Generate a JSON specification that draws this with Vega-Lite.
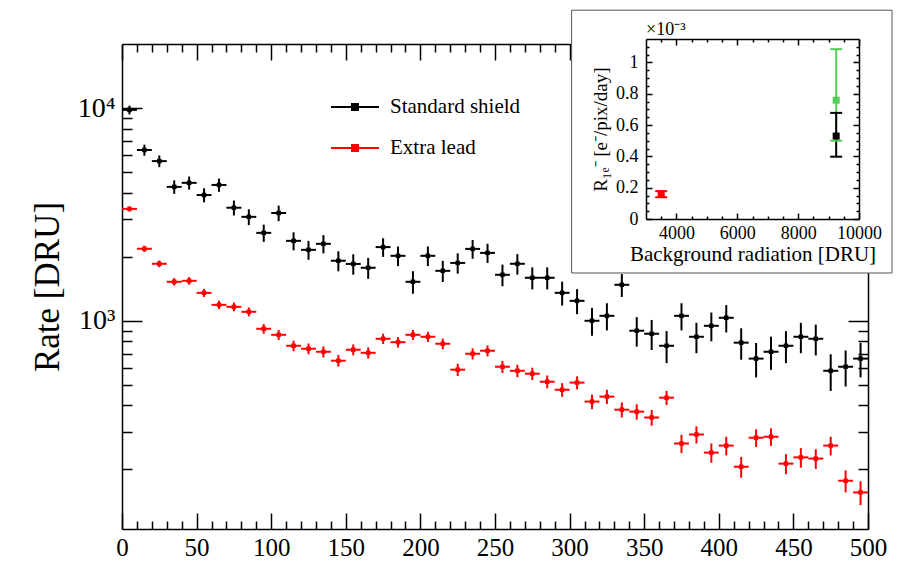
{
"$schema": "https://vega.github.io/schema/vega-lite/v6.json",
"width": 746, "height": 485,
"autosize": {"type": "none"},
"padding": {"left": 122, "top": 44, "right": 40, "bottom": 35},
"background": "white",
"config": {
  "view": {"stroke": null},
  "font": "Liberation Serif",
  "axis": {"labelFont": "Liberation Serif", "titleFont": "Liberation Serif", "labelColor": "black", "titleColor": "black", "tickColor": "black", "domainColor": "black", "grid": false, "titleFontWeight": "normal", "labelFlush": false, "labelOverlap": false, "labelBound": false, "tickWidth": 1.5, "domainWidth": 1.5}
},
"datasets": {
  "main": [
    {"series":"Standard shield","x":5,"x0":0,"x1":10,"rate":9800,"lo":9331,"hi":10269},
    {"series":"Standard shield","x":15,"x0":10,"x1":20,"rate":6350,"lo":5972,"hi":6728},
    {"series":"Standard shield","x":25,"x0":20,"x1":30,"rate":5630,"lo":5274,"hi":5986},
    {"series":"Standard shield","x":35,"x0":30,"x1":40,"rate":4260,"lo":3951,"hi":4569},
    {"series":"Standard shield","x":45,"x0":40,"x1":50,"rate":4450,"lo":4134,"hi":4766},
    {"series":"Standard shield","x":55,"x0":50,"x1":60,"rate":3900,"lo":3604,"hi":4196},
    {"series":"Standard shield","x":65,"x0":60,"x1":70,"rate":4350,"lo":4037,"hi":4663},
    {"series":"Standard shield","x":75,"x0":70,"x1":80,"rate":3400,"lo":3124,"hi":3676},
    {"series":"Standard shield","x":85,"x0":80,"x1":90,"rate":3080,"lo":2817,"hi":3343},
    {"series":"Standard shield","x":95,"x0":90,"x1":100,"rate":2590,"lo":2349,"hi":2831},
    {"series":"Standard shield","x":105,"x0":100,"x1":110,"rate":3210,"lo":2941,"hi":3479},
    {"series":"Standard shield","x":115,"x0":110,"x1":120,"rate":2375,"lo":2144,"hi":2606},
    {"series":"Standard shield","x":125,"x0":120,"x1":130,"rate":2155,"lo":1935,"hi":2375},
    {"series":"Standard shield","x":135,"x0":130,"x1":140,"rate":2300,"lo":2073,"hi":2527},
    {"series":"Standard shield","x":145,"x0":140,"x1":150,"rate":1915,"lo":1708,"hi":2122},
    {"series":"Standard shield","x":155,"x0":150,"x1":160,"rate":1850,"lo":1646,"hi":2054},
    {"series":"Standard shield","x":165,"x0":160,"x1":170,"rate":1775,"lo":1575,"hi":1975},
    {"series":"Standard shield","x":175,"x0":170,"x1":180,"rate":2220,"lo":1997,"hi":2443},
    {"series":"Standard shield","x":185,"x0":180,"x1":190,"rate":2020,"lo":1807,"hi":2233},
    {"series":"Standard shield","x":195,"x0":190,"x1":200,"rate":1525,"lo":1340,"hi":1710},
    {"series":"Standard shield","x":205,"x0":200,"x1":210,"rate":2020,"lo":1807,"hi":2233},
    {"series":"Standard shield","x":215,"x0":210,"x1":220,"rate":1717,"lo":1521,"hi":1913},
    {"series":"Standard shield","x":225,"x0":220,"x1":230,"rate":1870,"lo":1665,"hi":2075},
    {"series":"Standard shield","x":235,"x0":230,"x1":240,"rate":2177,"lo":1956,"hi":2398},
    {"series":"Standard shield","x":245,"x0":240,"x1":250,"rate":2085,"lo":1869,"hi":2301},
    {"series":"Standard shield","x":255,"x0":250,"x1":260,"rate":1645,"lo":1453,"hi":1837},
    {"series":"Standard shield","x":265,"x0":260,"x1":270,"rate":1853,"lo":1649,"hi":2057},
    {"series":"Standard shield","x":275,"x0":270,"x1":280,"rate":1593,"lo":1404,"hi":1782},
    {"series":"Standard shield","x":285,"x0":280,"x1":290,"rate":1593,"lo":1404,"hi":1782},
    {"series":"Standard shield","x":295,"x0":290,"x1":300,"rate":1353,"lo":1179,"hi":1527},
    {"series":"Standard shield","x":305,"x0":300,"x1":310,"rate":1241,"lo":1074,"hi":1408},
    {"series":"Standard shield","x":315,"x0":310,"x1":320,"rate":1000,"lo":850,"hi":1150},
    {"series":"Standard shield","x":325,"x0":320,"x1":330,"rate":1055,"lo":901,"hi":1209},
    {"series":"Standard shield","x":335,"x0":330,"x1":340,"rate":1476,"lo":1294,"hi":1658},
    {"series":"Standard shield","x":345,"x0":340,"x1":350,"rate":898,"lo":756,"hi":1040},
    {"series":"Standard shield","x":355,"x0":350,"x1":360,"rate":869,"lo":729,"hi":1009},
    {"series":"Standard shield","x":365,"x0":360,"x1":370,"rate":763,"lo":632,"hi":894},
    {"series":"Standard shield","x":375,"x0":370,"x1":380,"rate":1055,"lo":901,"hi":1209},
    {"series":"Standard shield","x":385,"x0":380,"x1":390,"rate":841,"lo":704,"hi":978},
    {"series":"Standard shield","x":395,"x0":390,"x1":400,"rate":947,"lo":801,"hi":1093},
    {"series":"Standard shield","x":405,"x0":400,"x1":410,"rate":1033,"lo":881,"hi":1185},
    {"series":"Standard shield","x":415,"x0":410,"x1":420,"rate":789,"lo":656,"hi":922},
    {"series":"Standard shield","x":425,"x0":420,"x1":430,"rate":664,"lo":542,"hi":786},
    {"series":"Standard shield","x":435,"x0":430,"x1":440,"rate":715,"lo":588,"hi":842},
    {"series":"Standard shield","x":445,"x0":440,"x1":450,"rate":763,"lo":632,"hi":894},
    {"series":"Standard shield","x":455,"x0":450,"x1":460,"rate":841,"lo":704,"hi":978},
    {"series":"Standard shield","x":465,"x0":460,"x1":470,"rate":823,"lo":687,"hi":959},
    {"series":"Standard shield","x":475,"x0":470,"x1":480,"rate":582,"lo":468,"hi":696},
    {"series":"Standard shield","x":485,"x0":480,"x1":490,"rate":608,"lo":491,"hi":725},
    {"series":"Standard shield","x":495,"x0":490,"x1":500,"rate":664,"lo":542,"hi":786},
    {"series":"Extra lead","x":5,"x0":0,"x1":10,"rate":3357,"lo":3264,"hi":3450},
    {"series":"Extra lead","x":15,"x0":10,"x1":20,"rate":2180,"lo":2105,"hi":2255},
    {"series":"Extra lead","x":25,"x0":20,"x1":30,"rate":1853,"lo":1784,"hi":1922},
    {"series":"Extra lead","x":35,"x0":30,"x1":40,"rate":1525,"lo":1462,"hi":1588},
    {"series":"Extra lead","x":45,"x0":40,"x1":50,"rate":1541,"lo":1478,"hi":1604},
    {"series":"Extra lead","x":55,"x0":50,"x1":60,"rate":1353,"lo":1294,"hi":1412},
    {"series":"Extra lead","x":65,"x0":60,"x1":70,"rate":1188,"lo":1133,"hi":1243},
    {"series":"Extra lead","x":75,"x0":70,"x1":80,"rate":1163,"lo":1108,"hi":1218},
    {"series":"Extra lead","x":85,"x0":80,"x1":90,"rate":1102,"lo":1049,"hi":1155},
    {"series":"Extra lead","x":95,"x0":90,"x1":100,"rate":917,"lo":869,"hi":965},
    {"series":"Extra lead","x":105,"x0":100,"x1":110,"rate":859,"lo":812,"hi":906},
    {"series":"Extra lead","x":115,"x0":110,"x1":120,"rate":763,"lo":719,"hi":807},
    {"series":"Extra lead","x":125,"x0":120,"x1":130,"rate":739,"lo":696,"hi":782},
    {"series":"Extra lead","x":135,"x0":130,"x1":140,"rate":715,"lo":672,"hi":758},
    {"series":"Extra lead","x":145,"x0":140,"x1":150,"rate":649,"lo":608,"hi":690},
    {"series":"Extra lead","x":155,"x0":150,"x1":160,"rate":731,"lo":688,"hi":774},
    {"series":"Extra lead","x":165,"x0":160,"x1":170,"rate":707,"lo":664,"hi":750},
    {"series":"Extra lead","x":175,"x0":170,"x1":180,"rate":823,"lo":777,"hi":869},
    {"series":"Extra lead","x":185,"x0":180,"x1":190,"rate":793,"lo":748,"hi":838},
    {"series":"Extra lead","x":195,"x0":190,"x1":200,"rate":859,"lo":812,"hi":906},
    {"series":"Extra lead","x":205,"x0":200,"x1":210,"rate":841,"lo":795,"hi":887},
    {"series":"Extra lead","x":215,"x0":210,"x1":220,"rate":780,"lo":735,"hi":825},
    {"series":"Extra lead","x":225,"x0":220,"x1":230,"rate":589,"lo":550,"hi":628},
    {"series":"Extra lead","x":235,"x0":230,"x1":240,"rate":700,"lo":658,"hi":742},
    {"series":"Extra lead","x":245,"x0":240,"x1":250,"rate":723,"lo":680,"hi":766},
    {"series":"Extra lead","x":255,"x0":250,"x1":260,"rate":608,"lo":568,"hi":648},
    {"series":"Extra lead","x":265,"x0":260,"x1":270,"rate":582,"lo":543,"hi":621},
    {"series":"Extra lead","x":275,"x0":270,"x1":280,"rate":564,"lo":526,"hi":602},
    {"series":"Extra lead","x":285,"x0":280,"x1":290,"rate":517,"lo":481,"hi":553},
    {"series":"Extra lead","x":295,"x0":290,"x1":300,"rate":474,"lo":439,"hi":509},
    {"series":"Extra lead","x":305,"x0":300,"x1":310,"rate":512,"lo":476,"hi":548},
    {"series":"Extra lead","x":315,"x0":310,"x1":320,"rate":417,"lo":384,"hi":450},
    {"series":"Extra lead","x":325,"x0":320,"x1":330,"rate":440,"lo":406,"hi":474},
    {"series":"Extra lead","x":335,"x0":330,"x1":340,"rate":382,"lo":351,"hi":413},
    {"series":"Extra lead","x":345,"x0":340,"x1":350,"rate":374,"lo":343,"hi":405},
    {"series":"Extra lead","x":355,"x0":350,"x1":360,"rate":351,"lo":321,"hi":381},
    {"series":"Extra lead","x":365,"x0":360,"x1":370,"rate":435,"lo":402,"hi":468},
    {"series":"Extra lead","x":375,"x0":370,"x1":380,"rate":265,"lo":239,"hi":291},
    {"series":"Extra lead","x":385,"x0":380,"x1":390,"rate":292,"lo":265,"hi":319},
    {"series":"Extra lead","x":395,"x0":390,"x1":400,"rate":240,"lo":215,"hi":265},
    {"series":"Extra lead","x":405,"x0":400,"x1":410,"rate":259,"lo":233,"hi":285},
    {"series":"Extra lead","x":415,"x0":410,"x1":420,"rate":206,"lo":183,"hi":229},
    {"series":"Extra lead","x":425,"x0":420,"x1":430,"rate":282,"lo":255,"hi":309},
    {"series":"Extra lead","x":435,"x0":430,"x1":440,"rate":285,"lo":258,"hi":312},
    {"series":"Extra lead","x":445,"x0":440,"x1":450,"rate":213,"lo":190,"hi":236},
    {"series":"Extra lead","x":455,"x0":450,"x1":460,"rate":228,"lo":204,"hi":252},
    {"series":"Extra lead","x":465,"x0":460,"x1":470,"rate":225,"lo":201,"hi":249},
    {"series":"Extra lead","x":475,"x0":470,"x1":480,"rate":259,"lo":233,"hi":285},
    {"series":"Extra lead","x":485,"x0":480,"x1":490,"rate":177,"lo":156,"hi":198},
    {"series":"Extra lead","x":495,"x0":490,"x1":500,"rate":156,"lo":136,"hi":176}
  ],
  "inset": [
    {"series":"Corrected","dru":9250,"r":0.000759,"lo":0.0005,"hi":0.001085},
    {"series":"Standard shield","dru":9250,"r":0.00053,"lo":0.000398,"hi":0.000678},
    {"series":"Extra lead","dru":3500,"r":0.00016,"lo":0.000139,"hi":0.000178}
  ]
},
"layer": [
  {
    "data": {"name": "main"},
    "layer": [
      {
        "mark": {"type": "rule", "strokeWidth": 2},
        "encoding": {
          "x": {"field": "x0", "type": "quantitative", "scale": {"domain": [0, 500], "nice": false, "zero": false},
                "axis": {"orient": "bottom", "values": [0,50,100,150,200,250,300,350,400,450,500], "format": "d", "tickSize": -16, "labelFontSize": 25, "labelPadding": 22, "title": null, "zindex": 0}},
          "x2": {"field": "x1"},
          "y": {"field": "rate", "type": "quantitative", "scale": {"type": "log", "domain": [105, 20000], "nice": false},
                "axis": {"orient": "left", "values": [1000, 10000], "tickSize": -20, "labelExpr": "datum.value == 10000 ? '10⁴' : '10³'", "labelFontSize": 28, "labelPadding": 27, "title": "Rate [DRU]", "titleFontSize": 35, "titlePadding": 12, "zindex": 0}},
          "color": {"field": "series", "type": "nominal", "scale": {"domain": ["Standard shield", "Extra lead", "Corrected"], "range": ["#000000", "#ff0000", "#55cc55"]},
                    "legend": {"values": ["Standard shield", "Extra lead"], "orient": "none", "legendX": 222, "legendY": 52, "title": null, "padding": 0, "symbolType": "M-2.4,0H2.4M-0.3,-0.3H0.3V0.3H-0.3Z", "symbolSize": 400, "symbolStrokeWidth": 2, "symbolOpacity": 1, "labelFont": "Liberation Serif", "labelFontSize": 21, "labelColor": "black", "labelOffset": 24, "rowPadding": 20,
                              "encode": {"symbols": {"update": {"fill": {"scale": "color", "field": "value"}, "stroke": {"scale": "color", "field": "value"}}}}}}
        }
      },
      {
        "mark": {"type": "rule", "strokeWidth": 2},
        "encoding": {
          "x": {"field": "x", "type": "quantitative",
                "axis": {"orient": "bottom", "values": [10,20,30,40,60,70,80,90,110,120,130,140,160,170,180,190,210,220,230,240,260,270,280,290,310,320,330,340,360,370,380,390,410,420,430,440,460,470,480,490], "tickSize": -8, "labels": false, "domain": false, "title": null, "zindex": 0}},
          "y": {"field": "lo", "type": "quantitative",
                "axis": {"orient": "left", "values": [200,300,400,500,600,700,800,900,2000,3000,4000,5000,6000,7000,8000,9000], "tickSize": -10, "labels": false, "domain": false, "title": null, "zindex": 0}},
          "y2": {"field": "hi"},
          "color": {"field": "series", "type": "nominal", "scale": {"domain": ["Standard shield", "Extra lead", "Corrected"], "range": ["#000000", "#ff0000", "#55cc55"]}, "legend": null}
        }
      },
      {
        "transform": [{"filter": "datum.series == 'Standard shield'"}],
        "mark": {"type": "point", "shape": "square", "filled": true, "size": 20, "opacity": 1},
        "encoding": {
          "x": {"field": "x", "type": "quantitative",
                "axis": {"orient": "top", "values": [0,50,100,150,200,250,300,350,400,450,500], "tickSize": -16, "labels": false, "title": null, "zindex": 0}},
          "y": {"field": "rate", "type": "quantitative",
                "axis": {"orient": "right", "values": [1000, 10000], "tickSize": -20, "labels": false, "title": null, "zindex": 0}},
          "color": {"field": "series", "type": "nominal", "scale": {"domain": ["Standard shield", "Extra lead", "Corrected"], "range": ["#000000", "#ff0000", "#55cc55"]}, "legend": null}
        }
      },
      {
        "transform": [{"filter": "datum.series == 'Extra lead'"}],
        "mark": {"type": "point", "shape": "square", "filled": true, "size": 20, "opacity": 1},
        "encoding": {
          "x": {"field": "x", "type": "quantitative",
                "axis": {"orient": "top", "values": [10,20,30,40,60,70,80,90,110,120,130,140,160,170,180,190,210,220,230,240,260,270,280,290,310,320,330,340,360,370,380,390,410,420,430,440,460,470,480,490], "tickSize": -8, "labels": false, "domain": false, "title": null, "zindex": 0}},
          "y": {"field": "rate", "type": "quantitative",
                "axis": {"orient": "right", "values": [200,300,400,500,600,700,800,900,2000,3000,4000,5000,6000,7000,8000,9000], "tickSize": -10, "labels": false, "domain": false, "title": null, "zindex": 0}},
          "color": {"field": "series", "type": "nominal", "scale": {"domain": ["Standard shield", "Extra lead", "Corrected"], "range": ["#000000", "#ff0000", "#55cc55"]}, "legend": null}
        }
      }
    ],
    "resolve": {"axis": {"x": "independent", "y": "independent"}}
  },
  {
    "layer": [
      {
        "data": {"values": [{}]},
        "mark": {"type": "rect", "fill": "white", "stroke": "#555555", "strokeWidth": 1},
        "encoding": {
          "x": {"datum": 556, "type": "quantitative", "scale": {"domain": [3000, 10000], "range": [524, 737], "nice": false, "zero": false}, "axis": null},
          "x2": {"datum": 11085},
          "y": {"datum": -0.000345, "type": "quantitative", "scale": {"domain": [0, 0.00115], "range": [175, -5], "nice": false, "zero": false}, "axis": null},
          "y2": {"datum": 0.001334}
        }
      },
      {
        "data": {"name": "inset"},
        "mark": {"type": "rule", "strokeWidth": 2},
        "encoding": {
          "x": {"field": "dru", "type": "quantitative",
                "axis": {"orient": "bottom", "offset": -310, "values": [4000, 6000, 8000, 10000], "format": "d", "tickSize": -6, "labelFontSize": 18, "labelPadding": 11, "title": "Background radiation [DRU]", "titleFontSize": 21, "titlePadding": 1, "zindex": 1}},
          "y": {"field": "lo", "type": "quantitative",
                "axis": {"orient": "left", "offset": -524, "values": [0, 0.0002, 0.0004, 0.0006, 0.0008, 0.001], "labelExpr": "format(datum.value * 1000, '.1~f')", "tickSize": -6, "labelFontSize": 18, "labelPadding": 14, "title": "R₁ₑ⁻ [e⁻/pix/day]", "titleFontSize": 19, "titlePadding": 5, "zindex": 1}},
          "y2": {"field": "hi"},
          "color": {"field": "series", "type": "nominal", "scale": {"domain": ["Standard shield", "Extra lead", "Corrected"], "range": ["#000000", "#ff0000", "#55cc55"]}, "legend": null}
        }
      },
      {
        "data": {"name": "inset"},
        "mark": {"type": "tick", "orient": "horizontal", "size": 12, "thickness": 2, "opacity": 1},
        "encoding": {
          "x": {"field": "dru", "type": "quantitative",
                "axis": {"orient": "bottom", "offset": -310, "values": [3500, 4500, 5000, 5500, 6500, 7000, 7500, 8500, 9000, 9500], "tickSize": -3, "labels": false, "domain": false, "title": null, "zindex": 1}},
          "y": {"field": "lo", "type": "quantitative",
                "axis": {"orient": "left", "offset": -524, "values": [0.00005, 0.0001, 0.00015, 0.00025, 0.0003, 0.00035, 0.00045, 0.0005, 0.00055, 0.00065, 0.0007, 0.00075, 0.00085, 0.0009, 0.00095, 0.00105, 0.0011], "tickSize": -3, "labels": false, "domain": false, "title": null, "zindex": 1}},
          "color": {"field": "series", "type": "nominal", "scale": {"domain": ["Standard shield", "Extra lead", "Corrected"], "range": ["#000000", "#ff0000", "#55cc55"]}, "legend": null}
        }
      },
      {
        "data": {"name": "inset"},
        "mark": {"type": "tick", "orient": "horizontal", "size": 12, "thickness": 2, "opacity": 1},
        "encoding": {
          "x": {"field": "dru", "type": "quantitative",
                "axis": {"orient": "top", "offset": 5, "values": [4000, 6000, 8000, 10000], "tickSize": -6, "labels": false, "title": null, "zindex": 1}},
          "y": {"field": "hi", "type": "quantitative",
                "axis": {"orient": "right", "offset": -9, "values": [0, 0.0002, 0.0004, 0.0006, 0.0008, 0.001], "tickSize": -6, "labels": false, "title": null, "zindex": 1}},
          "color": {"field": "series", "type": "nominal", "scale": {"domain": ["Standard shield", "Extra lead", "Corrected"], "range": ["#000000", "#ff0000", "#55cc55"]}, "legend": null}
        }
      },
      {
        "data": {"name": "inset"},
        "mark": {"type": "point", "shape": "square", "filled": true, "size": 49, "opacity": 1},
        "encoding": {
          "x": {"field": "dru", "type": "quantitative",
                "axis": {"orient": "top", "offset": 5, "values": [3500, 4500, 5000, 5500, 6500, 7000, 7500, 8500, 9000, 9500], "tickSize": -3, "labels": false, "domain": false, "title": null, "zindex": 1}},
          "y": {"field": "r", "type": "quantitative",
                "axis": {"orient": "right", "offset": -9, "values": [0.00005, 0.0001, 0.00015, 0.00025, 0.0003, 0.00035, 0.00045, 0.0005, 0.00055, 0.00065, 0.0007, 0.00075, 0.00085, 0.0009, 0.00095, 0.00105, 0.0011], "tickSize": -3, "labels": false, "domain": false, "title": null, "zindex": 1}},
          "color": {"field": "series", "type": "nominal", "scale": {"domain": ["Standard shield", "Extra lead", "Corrected"], "range": ["#000000", "#ff0000", "#55cc55"]}, "legend": null}
        }
      },
      {
        "data": {"values": [{}]},
        "mark": {"type": "text", "text": "×10⁻³", "align": "left", "baseline": "alphabetic", "dy": -4, "fontSize": 18, "font": "Liberation Serif", "color": "black"},
        "encoding": {
          "x": {"datum": 3000, "type": "quantitative", "axis": null},
          "y": {"datum": 0.00115, "type": "quantitative", "axis": null}
        }
      }
    ],
    "resolve": {"axis": {"x": "independent", "y": "independent"}}
  }
],
"resolve": {"scale": {"x": "independent", "y": "independent"}}
}
